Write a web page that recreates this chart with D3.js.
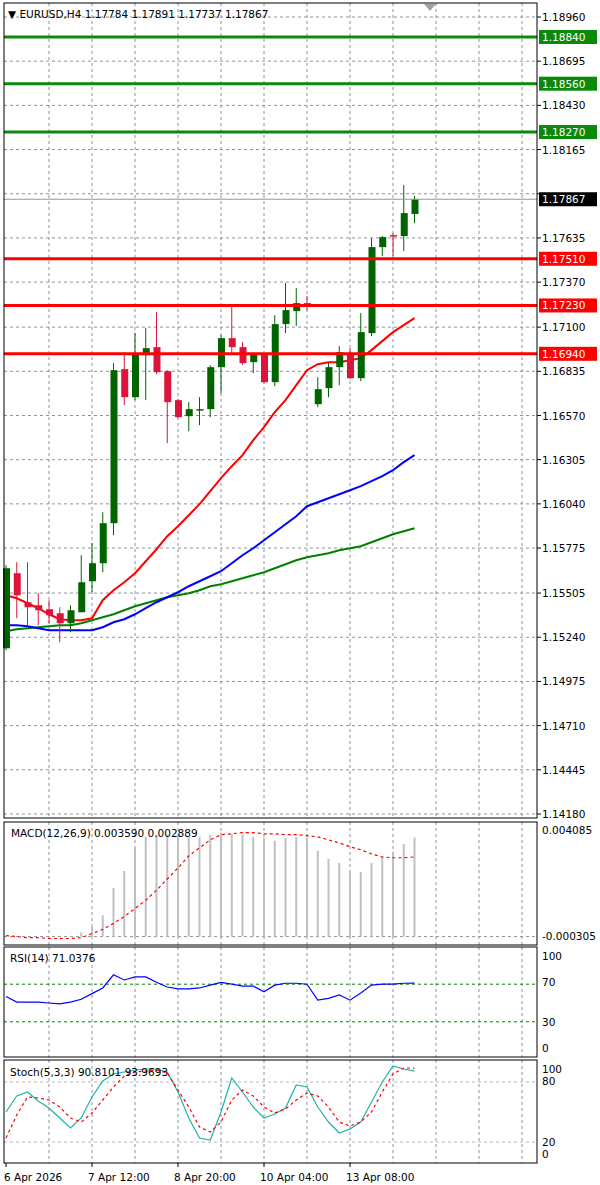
<!DOCTYPE html><html><head><meta charset="utf-8">
<script src="https://cdn.jsdelivr.net/npm/d3@7"></script>
<style>body{margin:0;background:#fff}svg{display:block}text{font-family:"DejaVu Sans",sans-serif;font-size:10.5px;fill:#000}</style>
</head><body><svg id="c" width="600" height="1185"></svg>
<script>
const openP=[1.15174,1.15624,1.15450,1.15432,1.15408,1.15384,1.15324,1.15390,1.15576,1.15684,1.15924,1.16848,1.16680,1.16932,1.16980,1.16836,1.16662,1.16566,1.16602,1.16608,1.16860,1.17034,1.16980,1.16890,1.16938,1.16770,1.17118,1.17196,1.17244,1.16638,1.16734,1.16860,1.16944,1.16794,1.17064,1.17580,1.17652,1.17646,1.17778];
const highP=[1.15672,1.15690,1.15690,1.15504,1.15462,1.15420,1.15432,1.15732,1.15804,1.15990,1.16884,1.16950,1.17064,1.17094,1.17190,1.16842,1.16668,1.16650,1.16680,1.16872,1.17052,1.17220,1.17010,1.16944,1.16944,1.17172,1.17364,1.17334,1.17286,1.16800,1.16884,1.16986,1.16974,1.17184,1.17634,1.17646,1.17664,1.17952,1.17886];
const lowP=[1.15162,1.15354,1.15312,1.15312,1.15324,1.15210,1.15270,1.15390,1.15510,1.15630,1.15852,1.16632,1.16662,1.16662,1.16818,1.16404,1.16554,1.16476,1.16512,1.16560,1.16704,1.16944,1.16872,1.16824,1.16764,1.16746,1.17064,1.17106,1.17202,1.16620,1.16680,1.16752,1.16788,1.16776,1.17046,1.17526,1.17526,1.17556,1.17724];
const closeP=[1.15654,1.15492,1.15420,1.15402,1.15372,1.15324,1.15402,1.15570,1.15684,1.15924,1.16842,1.16680,1.16938,1.16974,1.16830,1.16650,1.16560,1.16608,1.16608,1.16860,1.17034,1.16980,1.16884,1.16938,1.16770,1.17118,1.17202,1.17244,1.17232,1.16728,1.16860,1.16950,1.16794,1.17070,1.17580,1.17640,1.17646,1.17784,1.17867];
const maFast=[1.15492,1.15474,1.15444,1.15414,1.15378,1.15348,1.15342,1.15342,1.15354,1.15462,1.15522,1.15570,1.15624,1.15696,1.15768,1.15846,1.15906,1.15972,1.16038,1.16116,1.16194,1.16266,1.16332,1.16422,1.16500,1.16590,1.16662,1.16752,1.16842,1.16878,1.16890,1.16890,1.16902,1.16914,1.16962,1.17016,1.17070,1.17112,1.17154];
const maMid=[1.15312,1.15312,1.15306,1.15294,1.15282,1.15282,1.15282,1.15282,1.15282,1.15300,1.15330,1.15348,1.15378,1.15414,1.15450,1.15480,1.15510,1.15546,1.15576,1.15606,1.15636,1.15684,1.15732,1.15774,1.15822,1.15870,1.15918,1.15966,1.16026,1.16050,1.16074,1.16098,1.16122,1.16146,1.16176,1.16206,1.16242,1.16290,1.16332];
const maSlow=[1.15276,1.15288,1.15294,1.15300,1.15306,1.15312,1.15312,1.15324,1.15342,1.15360,1.15378,1.15402,1.15426,1.15444,1.15462,1.15480,1.15492,1.15504,1.15522,1.15546,1.15558,1.15576,1.15594,1.15612,1.15630,1.15654,1.15678,1.15702,1.15720,1.15732,1.15744,1.15762,1.15774,1.15786,1.15810,1.15834,1.15858,1.15876,1.15894];
const resistLevels=[1.18840,1.18560,1.18270];
const supportLevels=[1.17510,1.17230,1.16940];
const priceTicks=["1.18960","1.18695","1.18430","1.18165","1.17900","1.17635","1.17370","1.17100","1.16835","1.16570","1.16305","1.16040","1.15775","1.15505","1.15240","1.14975","1.14710","1.14445","1.14180"];
const macdHist=[0,0,0,0,0,0,0.00002,0.00015,0.00037,0.00077,0.00176,0.00238,0.00322,0.00362,0.00370,0.00370,0.00362,0.00362,0.00362,0.00370,0.00377,0.00373,0.00370,0.00362,0.00359,0.00348,0.00359,0.00362,0.00359,0.00311,0.00282,0.00267,0.00234,0.00234,0.00267,0.00289,0.00308,0.00336,0.00359];
const macdSignal=[0.00004,0,-0.00004,-0.00004,-0.00007,-0.00007,-0.00007,-0.00004,0.00011,0.00026,0.00048,0.00073,0.00102,0.00132,0.00168,0.00209,0.00249,0.00293,0.00322,0.00351,0.00370,0.00373,0.00377,0.00377,0.00373,0.00373,0.00370,0.00370,0.00366,0.00362,0.00351,0.00340,0.00326,0.00315,0.00300,0.00289,0.00286,0.00286,0.00289];
const rsi=[57,51,51,51,50,49,51,54,60,66,80,74.5,77.7,77.7,72,67,65,65,66,69,72,70,68,68,62,69,71,71,70,53,55,58.5,53,60.6,69,70,70,71,71.04];
const stochK=[50,66,70,61,54,44,34,44,65,81,88,90,92,93,93,90,70,44,24,22,50,84,70,55,44,48,54,77,75,55,40,29,33,40,60,80,96,93,90.81];
const stochD=[24,47,65,64,62,55,44,40,49,62,75,86,90,91,92,89,72,55,35,30,40,62,72,66,55,49,53,62,69,66,55,40,36,40,50,70,88,94,93.97];
const dateLabels=[[0,"6 Apr 2026"],[8,"7 Apr 12:00"],[16,"8 Apr 20:00"],[24,"10 Apr 04:00"],[32,"13 Apr 08:00"]];

const svg=d3.select("#c");
const L=4,R=537;
const x=d3.scaleLinear().domain([0,1]).range([6,16.75]);
const y=d3.scaleLinear().domain([1.14180,1.18960]).range([814,17]);
const GR="#8a949c";
const idx=d3.range(closeP.length);
function vgrid(t,b){for(let k=1;k<=12;k++){svg.append("line").attr("x1",x(4*k)).attr("x2",x(4*k)).attr("y1",t).attr("y2",b).attr("stroke",GR).attr("stroke-dasharray","3,3");}}
function hline(v,t,dash,col,w){svg.append("line").attr("x1",L).attr("x2",R).attr("y1",v).attr("y2",v).attr("stroke",col).attr("stroke-width",w||1).attr("stroke-dasharray",dash);}
vgrid(3,818);
priceTicks.forEach(t=>{hline(y(+t),0,"3,3",GR);});
priceTicks.forEach(t=>{if(t!=="1.17900")svg.append("text").attr("x",542).attr("y",y(+t)+4).text(t);
 svg.append("line").attr("x1",R).attr("x2",R+4).attr("y1",y(+t)).attr("y2",y(+t)).attr("stroke","#000");});
const line=a=>d3.line().x((d,i)=>x(i)).y(d=>y(d))(a);
[[maSlow,"#008000"],[maMid,"#0000ff"],[maFast,"#ff0000"]].forEach(([a,c])=>svg.append("path").attr("d",line(a)).attr("fill","none").attr("stroke",c).attr("stroke-width",2));
idx.forEach(i=>{const up=closeP[i]>=openP[i],c=up?"#006400":"#dc143c";
 svg.append("line").attr("x1",x(i)).attr("x2",x(i)).attr("y1",y(highP[i])).attr("y2",y(lowP[i])).attr("stroke",c);
 const t=y(Math.max(openP[i],closeP[i])),b=y(Math.min(openP[i],closeP[i]));
 svg.append("rect").attr("x",x(i)-3).attr("width",7).attr("y",t).attr("height",Math.max(1.5,b-t)).attr("fill",c);});
resistLevels.forEach(v=>{hline(y(v),0,null,"#0a8a0a",3);
 svg.append("rect").attr("x",539).attr("y",y(v)-7).attr("width",58).attr("height",14).attr("fill","#0a8a0a");
 svg.append("text").attr("x",542).attr("y",y(v)+4).style("fill","#fff").text(v.toFixed(5));});
supportLevels.forEach(v=>{hline(y(v),0,null,"#ff0000",3);
 svg.append("rect").attr("x",539).attr("y",y(v)-7).attr("width",58).attr("height",14).attr("fill","#ff0000");
 svg.append("text").attr("x",542).attr("y",y(v)+4).style("fill","#fff").text(v.toFixed(5));});
const last=closeP[closeP.length-1];
hline(y(last),0,null,"#8a9aa8",1);
svg.append("rect").attr("x",539).attr("y",y(last)-7).attr("width",58).attr("height",14).attr("fill","#000");
svg.append("text").attr("x",542).attr("y",y(last)+4).style("fill","#fff").text(last.toFixed(5));
svg.append("rect").attr("x",L).attr("y",3).attr("width",R-L).attr("height",815).attr("fill","none").attr("stroke","#000");
svg.append("text").attr("x",8).attr("y",18).text("\u25BC EURUSD,H4  1.17784 1.17891 1.17737 1.17867");
svg.append("path").attr("d","M424,4L436,4L430,11Z").attr("fill","#9aa4ac");

const ym=d3.scaleLinear().domain([-0.000305,0.004085]).range([945,824]);
vgrid(822,945); hline(ym(0),0,"3,3",GR);
idx.forEach(i=>svg.append("line").attr("x1",x(i)).attr("x2",x(i)).attr("y1",ym(0)).attr("y2",ym(macdHist[i])).attr("stroke","#c0c0c0").attr("stroke-width",2));
svg.append("path").attr("d",d3.line().x((d,i)=>x(i)).y(d=>ym(d))(macdSignal)).attr("fill","none").attr("stroke","#ff0000").attr("stroke-dasharray","3,3").attr("stroke-width",1.2);
svg.append("rect").attr("x",L).attr("y",822).attr("width",R-L).attr("height",123).attr("fill","none").attr("stroke","#000");
svg.append("text").attr("x",11).attr("y",837).text("MACD(12,26,9) 0.003590 0.002889");
svg.append("text").attr("x",542).attr("y",834).text("0.004085");
svg.append("text").attr("x",542).attr("y",940).text("-0.000305");

const yr=d3.scaleLinear().domain([0,100]).range([1050,956]);
vgrid(947,1057);
[70,30].forEach(v=>hline(yr(v),0,"3,3","#008000"));
svg.append("path").attr("d",d3.line().x((d,i)=>x(i)).y(d=>yr(d))(rsi)).attr("fill","none").attr("stroke","#0000ff").attr("stroke-width",1.2);
svg.append("rect").attr("x",L).attr("y",947).attr("width",R-L).attr("height",110).attr("fill","none").attr("stroke","#000");
svg.append("text").attr("x",10).attr("y",962).text("RSI(14) 71.0376");
[[100,960],[70,986],[30,1026],[0,1052]].forEach(([v,p])=>svg.append("text").attr("x",542).attr("y",p).text(v));

const ys=d3.scaleLinear().domain([0,100]).range([1162,1062]);
vgrid(1060,1163);
[80,20].forEach(v=>hline(ys(v),0,"3,3","#b8b8b8"));
svg.append("path").attr("d",d3.line().x((d,i)=>x(i)).y(d=>ys(d))(stochK)).attr("fill","none").attr("stroke","#20b2aa").attr("stroke-width",1.2);
svg.append("path").attr("d",d3.line().x((d,i)=>x(i)).y(d=>ys(d))(stochD)).attr("fill","none").attr("stroke","#ff0000").attr("stroke-dasharray","3,3").attr("stroke-width",1.2);
svg.append("rect").attr("x",L).attr("y",1060).attr("width",R-L).attr("height",103).attr("fill","none").attr("stroke","#000");
svg.append("text").attr("x",10).attr("y",1076).text("Stoch(5,3,3) 90.8101 93.9693");
[[100,1073],[80,1085],[20,1146],[0,1158]].forEach(([v,p])=>svg.append("text").attr("x",542).attr("y",p).text(v));

dateLabels.forEach(([i,t])=>{svg.append("line").attr("x1",x(i)).attr("x2",x(i)).attr("y1",1163).attr("y2",1167).attr("stroke","#000");
 svg.append("text").attr("x",i===0?4:x(i)-4).attr("y",1181).text(t);});
</script></body></html>
